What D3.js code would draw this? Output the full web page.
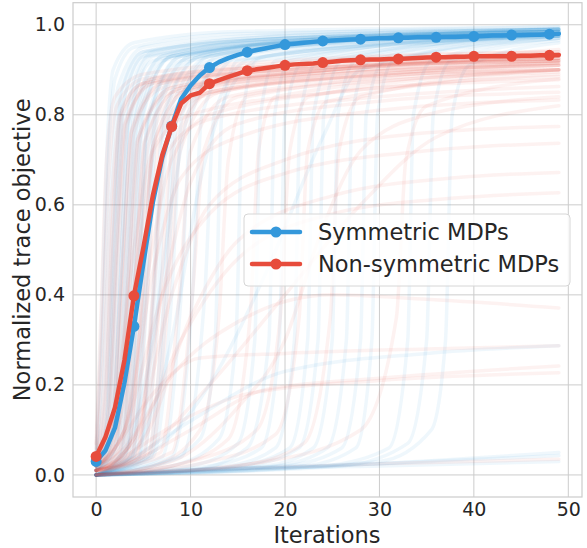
<!DOCTYPE html>
<html>
<head>
<meta charset="utf-8">
<script src="https://cdn.jsdelivr.net/npm/d3@7"></script>
<style>
  html, body { margin: 0; padding: 0; background: #ffffff; }
  svg { display: block; font-family: "DejaVu Sans", sans-serif; }
</style>
</head>
<body>
<svg id="chart" width="587" height="548"></svg>
<script>
// ---------------- DATA ----------------
const iterations = d3.range(0, 50);
const xTicks = [0, 10, 20, 30, 40, 50];
const yTicks = [0.0, 0.2, 0.4, 0.6, 0.8, 1.0];
const seriesNames = ["Symmetric MDPs", "Non-symmetric MDPs"];

const meanSym = [0.030, 0.055, 0.105, 0.205, 0.330, 0.470, 0.605, 0.705, 0.775, 0.835,
  0.865, 0.888, 0.905, 0.917, 0.926, 0.933, 0.939, 0.944, 0.948, 0.952,
  0.956, 0.958, 0.960, 0.962, 0.964, 0.965, 0.966, 0.967, 0.968, 0.969,
  0.970, 0.970, 0.971, 0.971, 0.972, 0.972, 0.972, 0.973, 0.973, 0.974,
  0.974, 0.975, 0.976, 0.976, 0.977, 0.977, 0.978, 0.978, 0.979, 0.980];

const meanNon = [0.041, 0.085, 0.150, 0.255, 0.398, 0.505, 0.620, 0.710, 0.774, 0.825,
  0.843, 0.849, 0.869, 0.877, 0.884, 0.891, 0.898, 0.901, 0.904, 0.907,
  0.910, 0.912, 0.913, 0.914, 0.916, 0.918, 0.920, 0.921, 0.922, 0.923,
  0.923, 0.924, 0.924, 0.925, 0.926, 0.927, 0.928, 0.928, 0.929, 0.929,
  0.930, 0.930, 0.930, 0.930, 0.930, 0.931, 0.931, 0.932, 0.932, 0.933];

// individual runs (knots: [iteration, value])
const symTraces = [
  [[0,0.04],[0.6,0.25],[1.2,0.65],[2,0.88],[4,0.95],[15,0.98],[49,0.99]],
  [[0,0.05],[0.5,0.3],[1.1,0.7],[1.8,0.9],[4,0.96],[15,0.985],[49,0.995]],
  [[0,0.03],[0.8,0.2],[1.5,0.6],[2.3,0.86],[5,0.95],[20,0.98],[49,0.995]],
  [[0,0.02],[1,0.15],[1.8,0.55],[2.6,0.85],[5,0.94],[20,0.97],[49,0.985]],
  [[0,0.02],[1.1,0.12],[1.8,0.5],[2.6,0.84],[5,0.94],[20,0.975],[49,0.99]],
  [[0,0.02],[1.2,0.12],[2,0.5],[2.8,0.82],[5,0.93],[20,0.97],[49,0.98]],
  [[0,0.02],[1.3,0.1],[2.1,0.48],[2.9,0.83],[5.5,0.94],[20,0.97],[49,0.985]],
  [[0,0.01],[1.5,0.1],[2.3,0.45],[3.1,0.8],[5.5,0.93],[20,0.965],[49,0.98]],
  [[0,0.01],[1.6,0.08],[2.5,0.4],[3.4,0.78],[6,0.92],[20,0.96],[49,0.975]],
  [[0,0.01],[1.7,0.08],[2.6,0.45],[3.5,0.82],[6,0.94],[20,0.975],[49,0.99]],
  [[0,0.01],[1.8,0.07],[2.8,0.42],[3.7,0.8],[6,0.93],[20,0.965],[49,0.985]],
  [[0,0.01],[2,0.06],[3,0.4],[4,0.8],[7,0.93],[20,0.97],[49,0.99]],
  [[0,0.01],[2.2,0.07],[3.2,0.42],[4.2,0.8],[7,0.93],[20,0.97],[49,0.985]],
  [[0,0.01],[2.3,0.06],[3.3,0.38],[4.3,0.78],[7,0.92],[20,0.96],[49,0.98]],
  [[0,0.01],[2.5,0.05],[3.6,0.4],[4.6,0.8],[8,0.93],[25,0.965],[49,0.975]],
  [[0,0.0],[2.7,0.05],[3.8,0.4],[4.9,0.8],[8,0.93],[25,0.97],[49,0.99]],
  [[0,0.0],[2.8,0.05],[4,0.4],[5,0.8],[8,0.93],[25,0.97],[49,0.985]],
  [[0,0.0],[3,0.04],[4.3,0.38],[5.4,0.78],[9,0.92],[25,0.96],[49,0.98]],
  [[0,0.0],[3.2,0.05],[4.4,0.4],[5.5,0.8],[9,0.93],[25,0.965],[49,0.98]],
  [[0,0.0],[3.3,0.04],[4.6,0.4],[5.7,0.8],[9,0.93],[25,0.965],[49,0.99]],
  [[0,0.0],[3.6,0.04],[5,0.4],[6.1,0.8],[10,0.93],[25,0.97],[49,0.98]],
  [[0,0.0],[3.8,0.04],[5.2,0.4],[6.3,0.8],[10,0.93],[25,0.97],[49,0.985]],
  [[0,0.0],[4,0.04],[5.4,0.4],[6.5,0.8],[10,0.92],[25,0.96],[49,0.985]],
  [[0,0.0],[4.5,0.04],[6,0.4],[7.1,0.8],[11,0.93],[25,0.965],[49,0.98]],
  [[0,0.0],[4.6,0.04],[6.2,0.4],[7.3,0.8],[11,0.93],[25,0.97],[49,0.99]],
  [[0,0.0],[5,0.04],[6.6,0.4],[7.7,0.8],[12,0.93],[30,0.97],[49,0.99]],
  [[0,0.0],[5.5,0.04],[7.2,0.4],[8.3,0.8],[12,0.92],[30,0.96],[49,0.98]],
  [[0,0.0],[5.8,0.04],[7.5,0.4],[8.6,0.8],[12,0.93],[30,0.965],[49,0.98]],
  [[0,0.0],[6,0.04],[8,0.4],[9.1,0.8],[13,0.93],[30,0.97],[49,0.985]],
  [[0,0.0],[7,0.04],[9,0.4],[10.1,0.8],[14,0.93],[30,0.965],[49,0.98]],
  [[0,0.0],[8,0.04],[10.2,0.4],[11.2,0.8],[15,0.93],[30,0.97],[49,0.99]],
  [[0,0.0],[9,0.04],[11.5,0.4],[12.5,0.8],[16,0.92],[30,0.96],[49,0.98]],
  [[0,0.0],[3,0.05],[6,0.3],[8,0.6],[10,0.82],[14,0.92],[49,0.975]],
  [[0,0.0],[4,0.05],[8,0.3],[11,0.65],[14,0.85],[18,0.93],[49,0.975]],
  [[0,0.0],[6,0.02],[11,0.08],[12.6,0.3],[13.3,0.8],[15,0.92],[49,0.98]],
  [[0,0.0],[8,0.02],[13,0.08],[14.8,0.3],[15.5,0.8],[17,0.92],[49,0.975]],
  [[0,0.0],[10,0.02],[15,0.07],[16.8,0.3],[17.4,0.8],[19,0.92],[49,0.98]],
  [[0,0.0],[10,0.01],[16,0.06],[18.3,0.3],[18.9,0.8],[20.5,0.92],[49,0.985]],
  [[0,0.0],[12,0.02],[17.5,0.06],[19.4,0.3],[20,0.8],[22,0.92],[49,0.98]],
  [[0,0.0],[14,0.02],[19,0.06],[21,0.3],[21.6,0.8],[23.5,0.92],[49,0.975]],
  [[0,0.0],[15,0.02],[20.5,0.06],[22.4,0.3],[23,0.8],[25,0.92],[49,0.98]],
  [[0,0.0],[16,0.02],[21.5,0.06],[23.5,0.3],[24.1,0.8],[26,0.92],[49,0.98]],
  [[0,0.0],[18,0.02],[23,0.06],[25,0.3],[25.6,0.8],[27.5,0.92],[49,0.975]],
  [[0,0.0],[19,0.02],[24.5,0.06],[26.5,0.3],[27.1,0.8],[29,0.92],[49,0.98]],
  [[0,0.0],[20,0.02],[26,0.06],[28,0.3],[28.6,0.8],[30.5,0.92],[49,0.97]],
  [[0,0.0],[22,0.02],[27.5,0.06],[29.2,0.3],[29.8,0.8],[31.5,0.92],[49,0.975]],
  [[0,0.0],[24,0.02],[31,0.06],[33,0.3],[33.6,0.8],[35.5,0.92],[49,0.97]],
  [[0,0.0],[26,0.02],[33,0.07],[35,0.3],[35.7,0.8],[37.5,0.92],[49,0.965]],
  [[0,0.0],[30,0.03],[35.5,0.1],[37,0.3],[37.7,0.8],[39.5,0.91],[49,0.96]],
  [[0,0.0],[6,0.05],[12,0.2],[18,0.45],[24,0.75],[28,0.9],[49,0.97]],
  [[0,0.0],[4,0.04],[10,0.12],[20,0.23],[35,0.27],[49,0.287]],
  [[0,0.0],[10,0.01],[25,0.02],[49,0.05]],
  [[0,0.0],[10,0.012],[30,0.025],[49,0.043]],
  [[0,0.0],[8,0.01],[30,0.02],[49,0.03]]
];

const nonTraces = [
  [[0,0.06],[0.6,0.3],[1.3,0.65],[2.2,0.82],[5,0.88],[20,0.91],[49,0.93]],
  [[0,0.07],[0.5,0.35],[1.1,0.7],[2,0.84],[5,0.89],[20,0.92],[49,0.94]],
  [[0,0.05],[0.8,0.25],[1.6,0.6],[2.5,0.8],[5,0.87],[20,0.9],[49,0.92]],
  [[0,0.04],[1,0.18],[1.7,0.55],[2.6,0.8],[5,0.87],[20,0.905],[49,0.925]],
  [[0,0.04],[1,0.2],[1.9,0.55],[2.8,0.8],[6,0.88],[20,0.91],[49,0.935]],
  [[0,0.04],[1.2,0.15],[2.1,0.5],[3,0.78],[6,0.87],[20,0.9],[49,0.925]],
  [[0,0.03],[1.3,0.14],[2.2,0.5],[3.1,0.78],[6,0.87],[20,0.91],[49,0.935]],
  [[0,0.03],[1.4,0.12],[2.4,0.5],[3.3,0.78],[6,0.88],[20,0.915],[49,0.94]],
  [[0,0.03],[1.6,0.1],[2.7,0.45],[3.7,0.76],[7,0.86],[20,0.9],[49,0.92]],
  [[0,0.03],[1.7,0.1],[2.8,0.47],[3.8,0.77],[7,0.87],[20,0.9],[49,0.92]],
  [[0,0.03],[1.8,0.09],[3,0.45],[4,0.76],[7,0.87],[25,0.905],[49,0.93]],
  [[0,0.02],[2,0.08],[3.3,0.42],[4.3,0.74],[8,0.85],[25,0.89],[49,0.91]],
  [[0,0.02],[2.2,0.08],[3.4,0.44],[4.5,0.75],[8,0.86],[25,0.9],[49,0.925]],
  [[0,0.02],[2.3,0.07],[3.6,0.42],[4.7,0.75],[8,0.86],[25,0.9],[49,0.925]],
  [[0,0.02],[2.6,0.06],[4,0.4],[5.1,0.74],[9,0.86],[25,0.9],[49,0.93]],
  [[0,0.02],[2.8,0.07],[4.1,0.42],[5.2,0.74],[9,0.86],[25,0.895],[49,0.915]],
  [[0,0.02],[3,0.06],[4.4,0.4],[5.5,0.73],[9,0.85],[25,0.89],[49,0.915]],
  [[0,0.01],[3.4,0.06],[4.9,0.4],[6,0.73],[10,0.86],[25,0.895],[49,0.92]],
  [[0,0.01],[3.4,0.06],[4.9,0.42],[6.1,0.74],[10,0.86],[25,0.9],[49,0.93]],
  [[0,0.01],[3.8,0.05],[5.4,0.4],[6.6,0.73],[11,0.86],[25,0.9],[49,0.945]],
  [[0,0.01],[4.3,0.05],[6,0.4],[7.2,0.72],[11,0.84],[25,0.88],[49,0.9]],
  [[0,0.01],[4.4,0.05],[6.1,0.4],[7.3,0.72],[11,0.85],[25,0.89],[49,0.91]],
  [[0,0.01],[5,0.05],[6.8,0.4],[8,0.72],[12,0.85],[30,0.89],[49,0.91]],
  [[0,0.01],[5.5,0.05],[7.3,0.4],[8.5,0.72],[12,0.85],[30,0.89],[49,0.915]],
  [[0,0.01],[5.8,0.05],[7.7,0.4],[8.9,0.72],[13,0.85],[30,0.89],[49,0.92]],
  [[0,0.01],[6.8,0.05],[8.8,0.4],[10,0.72],[14,0.84],[30,0.88],[49,0.9]],
  [[0,0.01],[8,0.05],[10.2,0.4],[11.4,0.72],[15,0.84],[30,0.875],[49,0.895]],
  [[0,0.02],[2,0.12],[4.5,0.5],[6.5,0.75],[10,0.84],[25,0.88],[49,0.9]],
  [[0,0.02],[3,0.1],[5.5,0.45],[8,0.7],[12,0.8],[30,0.86],[49,0.885]],
  [[0,0.01],[4,0.08],[7,0.4],[10,0.65],[15,0.78],[30,0.83],[49,0.85]],
  [[0,0.03],[2,0.15],[4,0.5],[6,0.72],[10,0.8],[25,0.85],[49,0.878]],
  [[0,0.02],[2.5,0.12],[5,0.5],[7,0.7],[12,0.79],[30,0.84],[49,0.863]],
  [[0,0.02],[3,0.1],[6,0.45],[9,0.66],[15,0.75],[30,0.81],[49,0.833]],
  [[0,0.01],[4,0.08],[8,0.4],[12,0.6],[20,0.7],[35,0.76],[49,0.774]],
  [[0,0.02],[3,0.1],[7,0.4],[12,0.58],[20,0.67],[35,0.72],[49,0.737]],
  [[0,0.01],[5,0.08],[10,0.35],[15,0.52],[25,0.62],[38,0.66],[49,0.672]],
  [[0,0.01],[4,0.07],[9,0.3],[15,0.48],[25,0.58],[38,0.615],[49,0.627]],
  [[0,0.01],[3,0.06],[8,0.22],[15,0.34],[25,0.4],[35,0.39],[49,0.371]],
  [[0,0.01],[2,0.06],[6,0.18],[11,0.26],[20,0.27],[35,0.28],[49,0.287]],
  [[0,0.0],[4,0.03],[10,0.1],[18,0.19],[30,0.215],[49,0.242]],
  [[0,0.0],[3,0.04],[9,0.12],[16,0.18],[30,0.21],[49,0.227]],
  [[0,0.0],[10,0.01],[30,0.025],[49,0.035]],
  [[0,0.0],[6,0.02],[11,0.1],[13,0.35],[14,0.7],[16,0.84],[49,0.91]],
  [[0,0.0],[8,0.02],[14,0.08],[16.3,0.35],[17.2,0.72],[19,0.84],[49,0.9]],
  [[0,0.0],[10,0.03],[17,0.1],[19.5,0.35],[20.5,0.72],[22.5,0.84],[49,0.9]],
  [[0,0.0],[12,0.03],[19,0.09],[21.5,0.35],[22.4,0.72],[24.5,0.83],[49,0.89]],
  [[0,0.0],[15,0.02],[22,0.07],[24.8,0.35],[25.7,0.72],[28,0.84],[49,0.9]],
  [[0,0.0],[18,0.03],[28,0.1],[31.8,0.35],[32.8,0.7],[35,0.82],[49,0.88]],
  [[0,0.0],[8,0.03],[15,0.15],[20,0.3],[24,0.55],[28,0.72],[35,0.8],[49,0.84]],
  [[0,0.0],[5,0.05],[12,0.2],[20,0.4],[28,0.6],[36,0.75],[49,0.82]]
];

// ---------------- LAYOUT ----------------
const plot = { left: 73, right: 582, top: 2.7, bottom: 497 };
const colors = { sym: "#3498db", non: "#e74c3c" };
const textColor = "#262626";
const gridColor = "#cccccc";

const svg = d3.select("#chart");

const x = d3.scaleLinear().domain([-2.45, 51.45]).range([plot.left, plot.right]);
const y = d3.scaleLinear().domain([-0.049, 1.049]).range([plot.bottom, plot.top]);

svg.append("defs").append("clipPath").attr("id", "clip")
  .append("rect")
  .attr("x", plot.left).attr("y", plot.top)
  .attr("width", plot.right - plot.left).attr("height", plot.bottom - plot.top);

// grid
const grid = svg.append("g");
grid.selectAll("line.gx").data(xTicks).enter().append("line")
  .attr("x1", d => x(d)).attr("x2", d => x(d))
  .attr("y1", plot.top).attr("y2", plot.bottom)
  .attr("stroke", gridColor).attr("stroke-width", 1);
grid.selectAll("line.gy").data(yTicks).enter().append("line")
  .attr("x1", plot.left).attr("x2", plot.right)
  .attr("y1", d => y(d)).attr("y2", d => y(d))
  .attr("stroke", gridColor).attr("stroke-width", 1);

// axes (labels only; no tick marks)
const xAxis = d3.axisBottom(x).tickValues(xTicks).tickSize(0).tickPadding(6).tickFormat(d3.format("d"));
const yAxis = d3.axisLeft(y).tickValues(yTicks).tickSize(0).tickPadding(8).tickFormat(d3.format(".1f"));

const gx = svg.append("g").attr("transform", `translate(0,${plot.bottom})`).call(xAxis);
const gy = svg.append("g").attr("transform", `translate(${plot.left},0)`).call(yAxis);
[gx, gy].forEach(g => {
  g.select(".domain").remove();
  g.selectAll("text").attr("fill", textColor).attr("font-size", 19)
    .attr("font-family", "DejaVu Sans, sans-serif");
});

// background traces
const traceLine = d3.line().x(d => x(d[0])).y(d => y(d[1])).curve(d3.curveMonotoneX);
const traces = svg.append("g").attr("clip-path", "url(#clip)");
traces.selectAll("path.sym").data(symTraces).enter().append("path")
  .attr("d", traceLine)
  .attr("fill", "none").attr("stroke", colors.sym)
  .attr("stroke-width", 3.5).attr("stroke-opacity", 0.08)
  .attr("stroke-linecap", "round");
traces.selectAll("path.non").data(nonTraces).enter().append("path")
  .attr("d", traceLine)
  .attr("fill", "none").attr("stroke", colors.non)
  .attr("stroke-width", 3.5).attr("stroke-opacity", 0.07)
  .attr("stroke-linecap", "round");

// mean lines
const meanLine = d3.line().x((d, i) => x(iterations[i])).y(d => y(d));
const means = svg.append("g").attr("clip-path", "url(#clip)");
[[meanSym, colors.sym], [meanNon, colors.non]].forEach(([vals, c]) => {
  means.append("path").datum(vals)
    .attr("d", meanLine)
    .attr("fill", "none").attr("stroke", c)
    .attr("stroke-width", 4.5).attr("stroke-linejoin", "round").attr("stroke-linecap", "round");
  means.selectAll(null).data(iterations.filter(i => i % 4 === 0)).enter().append("circle")
    .attr("cx", i => x(i)).attr("cy", i => y(vals[i]))
    .attr("r", 5.5).attr("fill", c);
});

// spines
svg.append("rect")
  .attr("x", plot.left).attr("y", plot.top)
  .attr("width", plot.right - plot.left).attr("height", plot.bottom - plot.top)
  .attr("fill", "none").attr("stroke", gridColor).attr("stroke-width", 1.2);

// axis labels
svg.append("text")
  .attr("x", (plot.left + plot.right) / 2 - 0.5).attr("y", 543)
  .attr("text-anchor", "middle").attr("font-size", 22.5).attr("fill", textColor)
  .text("Iterations");
svg.append("text")
  .attr("transform", `translate(30,${(plot.top + plot.bottom) / 2}) rotate(-90)`)
  .attr("text-anchor", "middle").attr("font-size", 22.5).attr("fill", textColor)
  .text("Normalized trace objective");

// legend
const lg = svg.append("g");
lg.append("rect")
  .attr("x", 244).attr("y", 214).attr("width", 326).attr("height", 72)
  .attr("rx", 4).attr("ry", 4)
  .attr("fill", "#ffffff").attr("fill-opacity", 0.8)
  .attr("stroke", "#d6d6d6").attr("stroke-width", 1);
const legendItems = [
  { name: seriesNames[0], color: colors.sym },
  { name: seriesNames[1], color: colors.non }
];
const rowY = [232, 264];
legendItems.forEach((it, i) => {
  lg.append("line")
    .attr("x1", 252).attr("x2", 300).attr("y1", rowY[i]).attr("y2", rowY[i])
    .attr("stroke", it.color).attr("stroke-width", 4.5).attr("stroke-linecap", "round");
  lg.append("circle").attr("cx", 276).attr("cy", rowY[i]).attr("r", 5.5).attr("fill", it.color);
  lg.append("text")
    .attr("x", 318).attr("y", rowY[i] + 8)
    .attr("font-size", 22.5).attr("fill", textColor)
    .text(it.name);
});
</script>
</body>
</html>
